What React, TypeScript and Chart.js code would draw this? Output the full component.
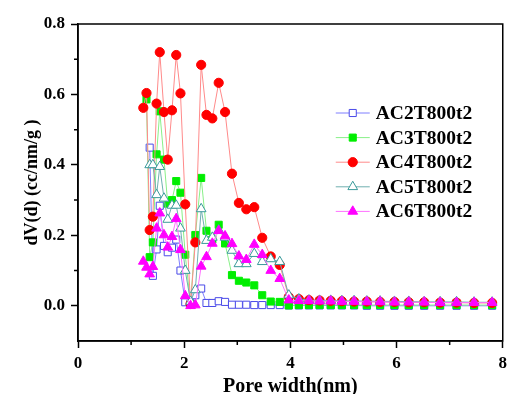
import React, { useEffect, useRef } from "react";
import { Chart, registerables } from "chart.js";

Chart.register(...registerables);

// Pore width grid (nm) shared by all samples
const poreWidth = [1.23, 1.29, 1.35, 1.41, 1.48, 1.54, 1.62, 1.69, 1.77, 1.85, 1.93, 2.02, 2.12, 2.21, 2.32, 2.42, 2.53, 2.65, 2.77, 2.9, 3.03, 3.17, 3.32, 3.47, 3.63, 3.8, 3.97, 4.16, 4.35, 4.55, 4.76, 4.97, 5.2, 5.44, 5.69, 5.96, 6.23, 6.52, 6.82, 7.13, 7.46, 7.8];

const ac2T800t2 = [null, null, 0.449, 0.085, 0.16, 0.284, 0.17, 0.152, 0.165, 0.188, 0.1, 0.01, 0.007, 0.03, 0.049, 0.008, 0.008, 0.013, 0.011, 0.003, 0.003, 0.003, 0.002, 0.002, 0.002, 0.002, 0.001, 0.001, 0.001, 0.001, 0.001, 0.001, 0.001, 0.0, 0.0, 0.0, 0.0, 0.0, 0.0, 0.0, 0.0, 0.0];
const ac3T800t2 = [null, 0.586, 0.138, 0.18, 0.43, 0.552, 0.415, 0.29, 0.3, 0.354, 0.321, 0.145, 0.005, 0.201, 0.363, 0.213, 0.188, 0.23, 0.177, 0.087, 0.071, 0.066, 0.058, 0.03, 0.012, 0.011, 0.001, 0.002, 0.002, 0.002, 0.002, 0.002, 0.002, 0.002, 0.002, 0.002, 0.002, 0.002, 0.002, 0.002, 0.002, 0.002];
const ac4T800t2 = [0.562, 0.604, 0.215, 0.253, 0.574, 0.72, 0.55, 0.415, 0.555, 0.712, 0.603, 0.288, 0.005, 0.18, 0.684, 0.542, 0.532, 0.633, 0.55, 0.375, 0.292, 0.274, 0.28, 0.193, 0.14, 0.116, 0.025, 0.019, 0.016, 0.015, 0.014, 0.013, 0.012, 0.012, 0.011, 0.011, 0.01, 0.01, 0.009, 0.009, 0.008, 0.008];
const ac5T800t2 = [null, null, 0.4, 0.4, 0.315, 0.395, 0.305, 0.245, 0.285, 0.285, 0.22, 0.1, 0.012, 0.045, 0.275, 0.185, 0.194, 0.215, 0.194, 0.157, 0.119, 0.119, 0.148, 0.125, 0.133, 0.125, 0.03, 0.019, 0.016, 0.015, 0.015, 0.014, 0.014, 0.013, 0.013, 0.012, 0.012, 0.011, 0.011, 0.011, 0.01, 0.01];
const ac6T800t2 = [0.126, 0.109, 0.09, 0.111, 0.22, 0.263, 0.201, 0.166, 0.196, 0.247, 0.159, 0.028, 0.0, 0.002, 0.112, 0.139, 0.177, 0.213, 0.198, 0.176, 0.141, 0.131, 0.174, 0.145, 0.1, 0.077, 0.016, 0.014, 0.014, 0.013, 0.013, 0.012, 0.012, 0.011, 0.011, 0.01, 0.01, 0.01, 0.009, 0.009, 0.009, 0.009];

const seriesNames = ["AC2T800t2", "AC3T800t2", "AC4T800t2", "AC5T800t2", "AC6T800t2"];
const seriesValues = [ac2T800t2, ac3T800t2, ac4T800t2, ac5T800t2, ac6T800t2];
const lineColors = ["#7f7fff", "#88f088", "#ff8a8a", "#6fb0b0", "#ff70ff"];
const markerColors = ["#4a4ae8", "#00ee00", "#ff0000", "#3a9a9a", "#ff00ff"];
const markerFills = ["#ffffff", "#00ee00", "#ff0000", "#ffffff", "#ff00ff"];
const markerStyles = ["rect", "rect", "circle", "triangle", "triangle"];
const markerRadii = [5, 5, 4.6, 5.6, 5.6];
const drawOrders = [4, 3, 2, 1, 0];

const xTickValues = [0, 2, 4, 6, 8];
const FONT = "'Liberation Serif', 'Times New Roman', serif";

function drawMarker(ctx: CanvasRenderingContext2D, style: string, x: number, y: number, r: number, fill: string, stroke: string) {
  ctx.beginPath();
  if (style === "circle") {
    ctx.arc(x, y, r, 0, Math.PI * 2);
  } else if (style === "rect") {
    const s = Math.SQRT1_2 * r;
    ctx.rect(x - s, y - s, 2 * s, 2 * s);
  } else {
    const h = (r * 3) / 2;
    const w = Math.sqrt(3) * r;
    ctx.moveTo(x, y - r);
    ctx.lineTo(x + w / 2, y - r + h);
    ctx.lineTo(x - w / 2, y - r + h);
    ctx.closePath();
  }
  ctx.fillStyle = fill;
  ctx.fill();
  ctx.strokeStyle = stroke;
  ctx.lineWidth = 1;
  ctx.stroke();
}

const framePlugin = {
  id: "frameAndMinor",
  afterDraw(chart: any) {
    const { ctx, chartArea } = chart;
    const xs = chart.scales.x;
    const ys = chart.scales.y;
    ctx.save();
    ctx.strokeStyle = "#000";
    ctx.lineWidth = 1.5;
    ctx.strokeRect(chartArea.left, chartArea.top, chartArea.right - chartArea.left, chartArea.bottom - chartArea.top);
    ctx.beginPath();
    [1, 3, 5, 7].forEach((v) => {
      const px = xs.getPixelForValue(v);
      ctx.moveTo(px, chartArea.bottom);
      ctx.lineTo(px, chartArea.bottom + 4);
    });
    [0.1, 0.3, 0.5, 0.7].forEach((v) => {
      const py = ys.getPixelForValue(v);
      ctx.moveTo(chartArea.left, py);
      ctx.lineTo(chartArea.left - 4, py);
    });
    ctx.stroke();
    ctx.restore();
  },
};

const legendPlugin = {
  id: "insideLegend",
  afterDatasetsDraw(chart: any) {
    const { ctx, chartArea } = chart;
    ctx.save();
    const x1 = chartArea.right - 167;
    const x2 = x1 + 34;
    const tx = x2 + 6;
    const y0 = chartArea.top + 89;
    const dy = 24.6;
    ctx.font = `bold 19.5px ${FONT}`;
    ctx.textBaseline = "middle";
    ctx.textAlign = "left";
    seriesNames.forEach((name, i) => {
      const y = y0 + i * dy;
      ctx.beginPath();
      ctx.moveTo(x1, y);
      ctx.lineTo(x2, y);
      ctx.strokeStyle = lineColors[i];
      ctx.lineWidth = 1;
      ctx.stroke();
      drawMarker(ctx, markerStyles[i], (x1 + x2) / 2, y, markerRadii[i], markerFills[i], markerColors[i]);
      ctx.fillStyle = "#000";
      ctx.fillText(name, tx, y + 1);
    });
    ctx.restore();
  },
};

export default function App() {
  const canvasRef = useRef<HTMLCanvasElement | null>(null);

  useEffect(() => {
    if (!canvasRef.current) return;
    const datasets = seriesNames.map((name, i) => ({
      label: name,
      data: poreWidth
        .map((x, j) => ({ x, y: seriesValues[i][j] }))
        .filter((p) => p.y !== null && p.y !== undefined),
      borderColor: lineColors[i],
      borderWidth: 1,
      backgroundColor: markerFills[i],
      pointBackgroundColor: markerFills[i],
      pointBorderColor: markerColors[i],
      pointBorderWidth: 1,
      pointStyle: markerStyles[i],
      pointRadius: markerRadii[i],
      tension: 0,
      fill: false,
      order: drawOrders[i],
    }));

    const chart = new Chart(canvasRef.current, {
      type: "line",
      data: { datasets },
      options: {
        animation: false,
        responsive: false,
        maintainAspectRatio: false,
        layout: { padding: { left: 0, right: 6, top: 24, bottom: 0 } },
        plugins: { legend: { display: false }, tooltip: { enabled: false } },
        scales: {
          x: {
            type: "linear",
            min: 0,
            max: 8,
            afterBuildTicks: (scale: any) => {
              scale.ticks = xTickValues.map((v) => ({ value: v }));
            },
            afterFit: (scale: any) => {
              scale.height = 53;
            },
            ticks: {
              color: "#000",
              padding: 5,
              maxRotation: 0,
              font: { family: FONT, weight: "bold", size: 17 },
            },
            grid: { display: true, drawOnChartArea: false, tickLength: 7, tickColor: "#000", tickWidth: 1.5 },
            border: { display: true, color: "#000", width: 1.5 },
            title: {
              display: true,
              text: "Pore width(nm)",
              color: "#000",
              padding: { top: 0, bottom: -3 },
              font: { family: FONT, weight: "bold", size: 20, lineHeight: 1 },
            },
          },
          y: {
            type: "linear",
            min: -0.1,
            max: 0.8,
            afterFit: (scale: any) => {
              scale.width = 78;
            },
            ticks: {
              stepSize: 0.2,
              includeBounds: false,
              color: "#000",
              padding: 6,
              font: { family: FONT, weight: "bold", size: 17 },
              callback: (v: any) => Number(v).toFixed(1),
            },
            grid: { display: true, drawOnChartArea: false, tickLength: 7, tickColor: "#000", tickWidth: 1.5 },
            border: { display: true, color: "#000", width: 1.5 },
            title: {
              display: true,
              text: "dV(d) (cc/nm/g )",
              color: "#000",
              padding: { top: 23, bottom: 0 },
              font: { family: FONT, weight: "bold", size: 18, lineHeight: 1 },
            },
          },
        },
      },
      plugins: [framePlugin, legendPlugin],
    } as any);

    return () => chart.destroy();
  }, []);

  return (
    <div style={{ position: "fixed", left: 0, top: 0, width: 512, height: 394, background: "#fff" }}>
      <canvas ref={canvasRef} width={512} height={394} style={{ display: "block" }} />
    </div>
  );
}
